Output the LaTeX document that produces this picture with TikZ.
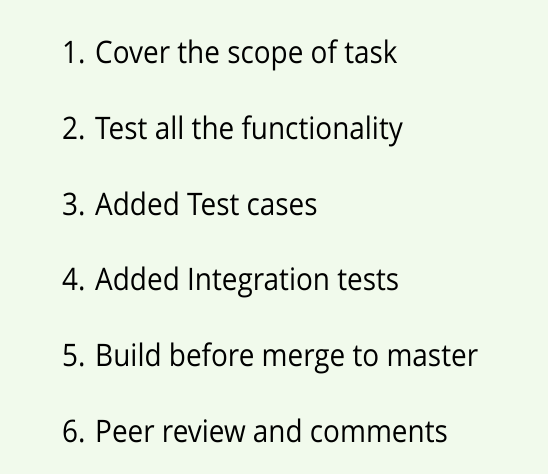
\documentclass[tikz,border=0pt]{standalone}
\usepackage{fontspec}
\setmainfont[FakeStretch=0.9]{Open Sans}
\definecolor{bgcolor}{HTML}{F1FAEC}

\begin{document}
\begin{tikzpicture}[x=1pt,y=1pt]
  % background
  \fill[bgcolor] (0,0) rectangle (548,474);
  \useasboundingbox (0,0) rectangle (548,474);

  % list items
  \tikzset{item/.style={anchor=base west, inner sep=0pt, font=\fontsize{31}{37}\selectfont}}
  \foreach \i/\txt in {1/{1. Cover the scope of task},
                       2/{2. Test all the functionality},
                       3/{3. Added Test cases},
                       4/{4. Added Integration tests},
                       5/{5. Build before merge to master},
                       6/{6. Peer review and comments}}
    \node[item] (l\i) at (62,{410-75.6*(\i-1)}) {\txt};
\end{tikzpicture}
\end{document}
